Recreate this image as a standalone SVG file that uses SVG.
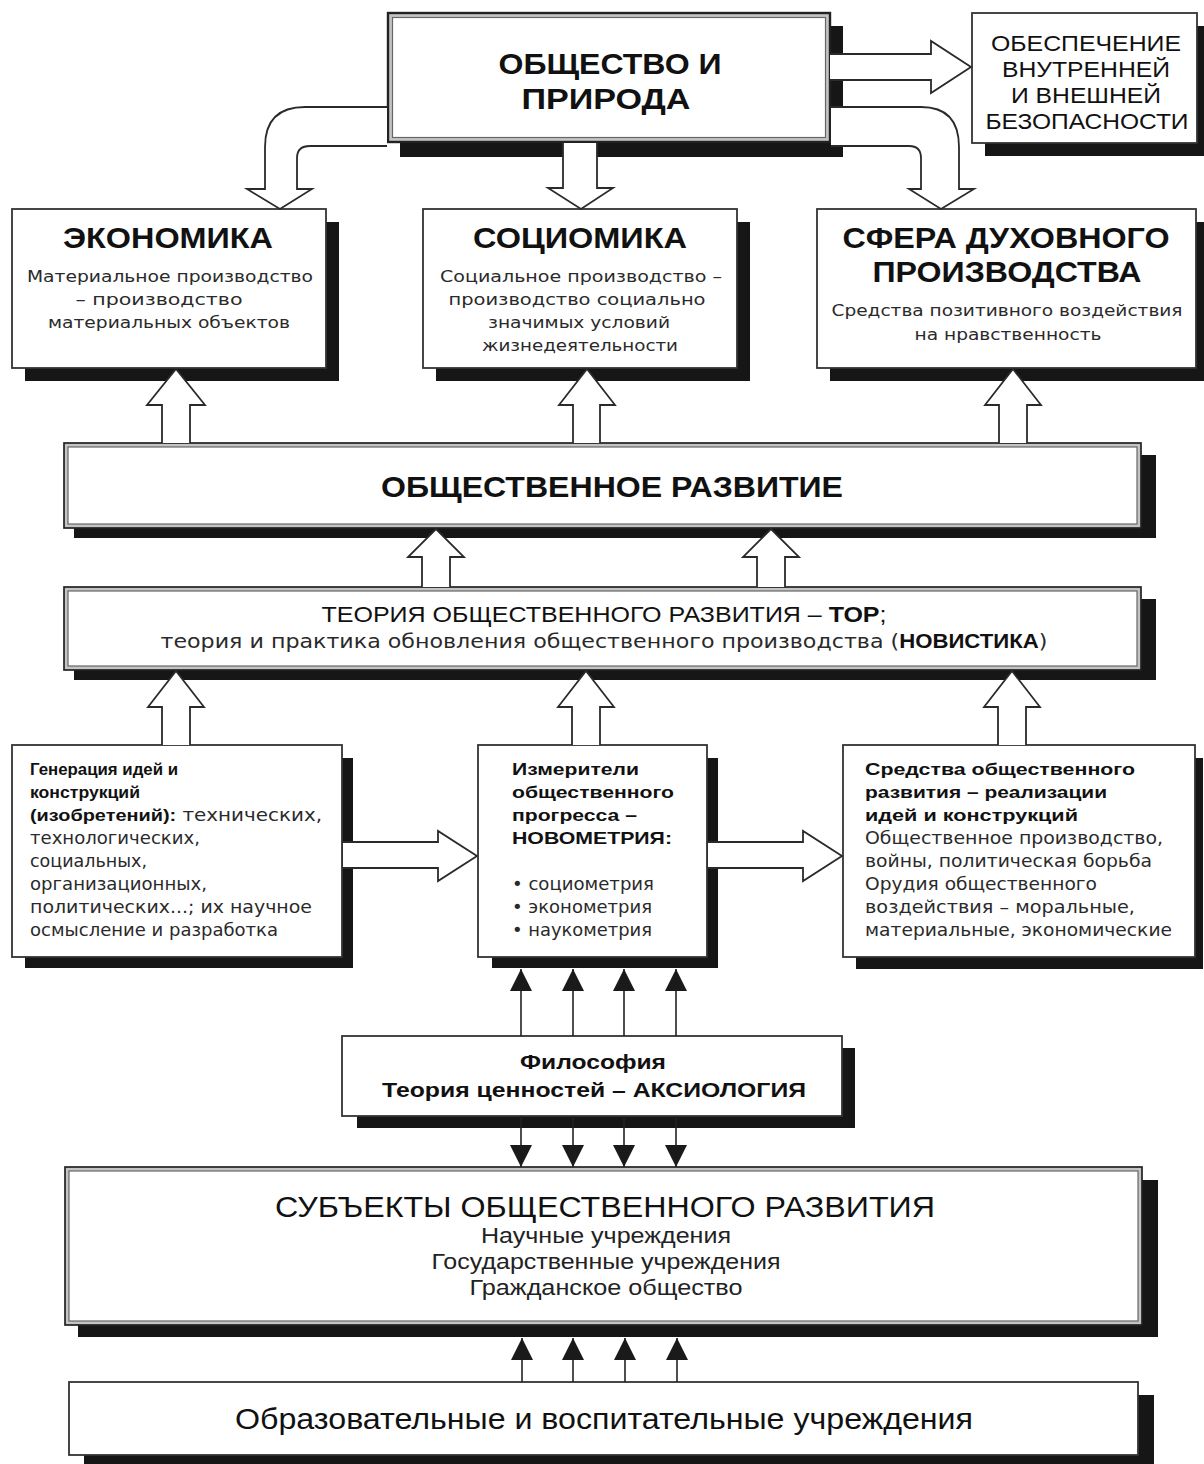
<svg xmlns="http://www.w3.org/2000/svg" width="1204" height="1464" viewBox="0 0 1204 1464">
<defs>
<marker id="ah" viewBox="0 0 10 10" refX="10" refY="5" markerWidth="22" markerHeight="22" markerUnits="userSpaceOnUse" orient="auto"><path d="M0,0 L10,5 L0,10 z" fill="#1a1a1a"/></marker>
<style>
.sh{fill:#161616}
.bx{fill:#fff;stroke:#333;stroke-width:1.8}
.dbo{fill:#c4c4c4;stroke:#222;stroke-width:1.7}
.dbi{fill:#fff;stroke:#666;stroke-width:1.2}
.ba{fill:#fff;stroke:#2a2a2a;stroke-width:1.8;stroke-linejoin:miter}
.ln{stroke:#222;stroke-width:1.6;fill:none;marker-end:url(#ah)}
.t{font-family:"Liberation Sans",Arial,sans-serif;font-weight:normal;fill:#111}
.b{font-family:"Liberation Sans",Arial,sans-serif;font-weight:bold;fill:#111}
.d{font-family:"DejaVu Sans","Liberation Sans",sans-serif;font-weight:normal;fill:#2a2a2a}
.m{text-anchor:middle}
</style>
</defs>
<rect width="1204" height="1464" fill="#fff"/>

<g id="node-society">
<rect class="sh" x="400" y="26" width="443" height="131"/>
<rect class="dbo" x="388" y="13" width="442" height="129" style="stroke-width:2.4"/>
<rect class="dbi" x="392.5" y="17.5" width="433" height="120"/>
<text class="b m" x="610" y="74" font-size="30" textLength="223" lengthAdjust="spacingAndGlyphs">ОБЩЕСТВО И</text>
<text class="b m" x="606" y="109" font-size="30" textLength="169" lengthAdjust="spacingAndGlyphs">ПРИРОДА</text>
</g>

<g id="node-security">
<rect class="sh" x="985" y="26" width="225" height="130"/>
<rect class="bx" x="972" y="13" width="225" height="130"/>
<g class="t m" font-size="22">
<text x="1086" y="51" textLength="190" lengthAdjust="spacingAndGlyphs">ОБЕСПЕЧЕНИЕ</text>
<text x="1086" y="77" textLength="168" lengthAdjust="spacingAndGlyphs">ВНУТРЕННЕЙ</text>
<text x="1086" y="103" textLength="150" lengthAdjust="spacingAndGlyphs">И ВНЕШНЕЙ</text>
<text x="1087" y="129" textLength="203" lengthAdjust="spacingAndGlyphs">БЕЗОПАСНОСТИ</text>
</g>
</g>

<g id="node-economy">
<rect class="sh" x="25" y="222" width="314" height="159"/>
<rect class="bx" x="12" y="209" width="314" height="159"/>
<text class="b m" x="168" y="248" font-size="30" textLength="210" lengthAdjust="spacingAndGlyphs">ЭКОНОМИКА</text>
<g class="d m" font-size="16">
<text x="170" y="282" textLength="286" lengthAdjust="spacingAndGlyphs">Материальное производство</text>
<text x="159" y="305" textLength="167" lengthAdjust="spacingAndGlyphs">– производство</text>
<text x="169" y="328" textLength="242" lengthAdjust="spacingAndGlyphs">материальных объектов</text>
</g>
</g>

<g id="node-sociomics">
<rect class="sh" x="436" y="222" width="314" height="159"/>
<rect class="bx" x="423" y="209" width="314" height="159"/>
<text class="b m" x="580" y="248" font-size="30" textLength="214" lengthAdjust="spacingAndGlyphs">СОЦИОМИКА</text>
<g class="d m" font-size="16">
<text x="581" y="282" textLength="282" lengthAdjust="spacingAndGlyphs">Социальное производство –</text>
<text x="577" y="305" textLength="257" lengthAdjust="spacingAndGlyphs">производство социально</text>
<text x="579" y="328" textLength="182" lengthAdjust="spacingAndGlyphs">значимых условий</text>
<text x="580" y="351" textLength="196" lengthAdjust="spacingAndGlyphs">жизнедеятельности</text>
</g>
</g>

<g id="node-spiritual">
<rect class="sh" x="830" y="222" width="379" height="159"/>
<rect class="bx" x="817" y="209" width="379" height="159"/>
<text class="b m" x="1006" y="248" font-size="30" textLength="327" lengthAdjust="spacingAndGlyphs">СФЕРА ДУХОВНОГО</text>
<text class="b m" x="1007" y="282" font-size="30" textLength="269" lengthAdjust="spacingAndGlyphs">ПРОИЗВОДСТВА</text>
<g class="d m" font-size="16">
<text x="1007" y="316" textLength="351" lengthAdjust="spacingAndGlyphs">Средства позитивного воздействия</text>
<text x="1008" y="340" textLength="187" lengthAdjust="spacingAndGlyphs">на нравственность</text>
</g>
</g>

<g id="node-development">
<rect class="sh" x="74" y="455" width="1082" height="83"/>
<rect class="dbo" x="64" y="443" width="1077" height="85"/>
<rect class="dbi" x="68" y="447" width="1069" height="77"/>
<text class="b m" x="612" y="497" font-size="30" textLength="462" lengthAdjust="spacingAndGlyphs">ОБЩЕСТВЕННОЕ РАЗВИТИЕ</text>
</g>

<g id="node-theory">
<rect class="sh" x="74" y="599" width="1082" height="81"/>
<rect class="dbo" x="64" y="587" width="1077" height="83"/>
<rect class="dbi" x="68" y="591" width="1069" height="75"/>
<text class="t m" x="604" y="622" font-size="22" textLength="565" lengthAdjust="spacingAndGlyphs">ТЕОРИЯ ОБЩЕСТВЕННОГО РАЗВИТИЯ – <tspan font-weight="bold">ТОР</tspan>;</text>
<text class="d m" x="604" y="648" font-size="20" textLength="887" lengthAdjust="spacingAndGlyphs">теория и практика обновления общественного производства (<tspan class="b">НОВИСТИКА</tspan>)</text>
</g>

<g id="node-generation">
<rect class="sh" x="25" y="758" width="328" height="210"/>
<rect class="bx" x="12" y="745" width="330" height="212"/>
<g font-size="17">
<text class="b" x="30" y="775" textLength="148" lengthAdjust="spacingAndGlyphs">Генерация идей и</text>
<text class="b" x="30" y="798" textLength="110" lengthAdjust="spacingAndGlyphs">конструкций</text>
<text class="b" x="30" y="821" textLength="292" lengthAdjust="spacingAndGlyphs">(изобретений):<tspan class="d"> технических,</tspan></text>
<text class="d" x="30" y="844" textLength="170" lengthAdjust="spacingAndGlyphs">технологических,</text>
<text class="d" x="30" y="867" textLength="117" lengthAdjust="spacingAndGlyphs">социальных,</text>
<text class="d" x="30" y="890" textLength="177" lengthAdjust="spacingAndGlyphs">организационных,</text>
<text class="d" x="30" y="913" textLength="282" lengthAdjust="spacingAndGlyphs">политических...;  их научное</text>
<text class="d" x="30" y="936" textLength="248" lengthAdjust="spacingAndGlyphs">осмысление и разработка</text>
</g>
</g>

<g id="node-measures">
<rect class="sh" x="492" y="758" width="226" height="210"/>
<rect class="bx" x="478" y="745" width="229" height="212"/>
<g font-size="17">
<text class="b" x="512" y="775" textLength="127" lengthAdjust="spacingAndGlyphs">Измерители</text>
<text class="b" x="512" y="798" textLength="162" lengthAdjust="spacingAndGlyphs">общественного</text>
<text class="b" x="512" y="821" textLength="125" lengthAdjust="spacingAndGlyphs">прогресса –</text>
<text class="b" x="512" y="844" textLength="160" lengthAdjust="spacingAndGlyphs">НОВОМЕТРИЯ:</text>
<text class="d" x="512" y="890" textLength="142" lengthAdjust="spacingAndGlyphs">• социометрия</text>
<text class="d" x="512" y="913" textLength="140" lengthAdjust="spacingAndGlyphs">• эконометрия</text>
<text class="d" x="512" y="936" textLength="140" lengthAdjust="spacingAndGlyphs">• наукометрия</text>
</g>
</g>

<g id="node-means">
<rect class="sh" x="856" y="758" width="347" height="211"/>
<rect class="bx" x="843" y="745" width="352" height="212"/>
<g font-size="17">
<text class="b" x="865" y="775" textLength="270" lengthAdjust="spacingAndGlyphs">Средства общественного</text>
<text class="b" x="865" y="798" textLength="242" lengthAdjust="spacingAndGlyphs">развития – реализации</text>
<text class="b" x="865" y="821" textLength="213" lengthAdjust="spacingAndGlyphs">идей и конструкций</text>
<text class="d" x="865" y="844" textLength="298" lengthAdjust="spacingAndGlyphs">Общественное производство,</text>
<text class="d" x="865" y="867" textLength="287" lengthAdjust="spacingAndGlyphs">войны, политическая борьба</text>
<text class="d" x="865" y="890" textLength="232" lengthAdjust="spacingAndGlyphs">Орудия общественного</text>
<text class="d" x="865" y="913" textLength="270" lengthAdjust="spacingAndGlyphs">воздействия – моральные,</text>
<text class="d" x="865" y="936" textLength="307" lengthAdjust="spacingAndGlyphs">материальные, экономические</text>
</g>
</g>

<g id="node-philosophy">
<rect class="sh" x="357" y="1048" width="498" height="80"/>
<rect class="bx" x="342" y="1036" width="500" height="80"/>
<text class="b m" x="593" y="1069" font-size="20" textLength="146" lengthAdjust="spacingAndGlyphs">Философия</text>
<text class="b m" x="594" y="1097" font-size="20" textLength="424" lengthAdjust="spacingAndGlyphs">Теория ценностей – АКСИОЛОГИЯ</text>
</g>

<g id="node-subjects">
<rect class="sh" x="78" y="1180" width="1080" height="157"/>
<rect class="dbo" x="65" y="1167" width="1077" height="158"/>
<rect class="dbi" x="69" y="1171" width="1069" height="150"/>
<text class="t m" x="605" y="1217" font-size="30" textLength="660" lengthAdjust="spacingAndGlyphs">СУБЪЕКТЫ ОБЩЕСТВЕННОГО РАЗВИТИЯ</text>
<g class="t m" font-size="22" style="fill:#222">
<text x="606" y="1243" textLength="250" lengthAdjust="spacingAndGlyphs">Научные учреждения</text>
<text x="606" y="1269" textLength="349" lengthAdjust="spacingAndGlyphs">Государственные учреждения</text>
<text x="606" y="1295" textLength="273" lengthAdjust="spacingAndGlyphs">Гражданское общество</text>
</g>
</g>

<g id="node-education">
<rect class="sh" x="84" y="1395" width="1070" height="80"/>
<rect class="bx" x="69" y="1382" width="1069" height="73"/>
<text class="t m" x="604" y="1429" font-size="30" textLength="738" lengthAdjust="spacingAndGlyphs">Образовательные и воспитательные учреждения</text>
</g>

<g id="connectors">
<path class="ba" d="M830 54 L931 54 L931 41 L971 67 L931 93 L931 80 L830 80"/>
<path class="ba" d="M387 107 L305 107 Q265 107 265 147 L265 189 L247 189 L280 209 L312 189 L297 189 L297 158 Q297 146 310 146 L387 146"/>
<path class="ba" d="M831 107 L921 107 Q959 107 959 147 L959 189 L974 189 L941 209 L909 189 L921 189 L921 158 Q921 146 909 146 L831 146"/>
<path class="ba" d="M563 143 L563 188 L548 188 L581 209 L613 188 L597 188 L597 143"/>

<path class="ba" d="M162 443 L162 405 L147 405 L176 369 L205 405 L190 405 L190 443"/>
<path class="ba" d="M573 443 L573 405 L559 405 L587 369 L615 405 L600 405 L600 443"/>
<path class="ba" d="M999 443 L999 405 L985 405 L1013 369 L1041 405 L1027 405 L1027 443"/>

<path class="ba" d="M422 587 L422 557 L408 557 L436 529 L464 557 L450 557 L450 587"/>
<path class="ba" d="M757 587 L757 557 L743 557 L771 529 L799 557 L785 557 L785 587"/>

<path class="ba" d="M162 745 L162 707 L148 707 L176 671 L204 707 L190 707 L190 745"/>
<path class="ba" d="M572 745 L572 707 L558 707 L586 671 L614 707 L600 707 L600 745"/>
<path class="ba" d="M998 745 L998 707 L984 707 L1012 671 L1040 707 L1026 707 L1026 745"/>

<path class="ba" d="M343 842 L438 842 L438 831 L477 856 L438 881 L438 868 L343 868"/>
<path class="ba" d="M708 842 L803 842 L803 831 L842 856 L803 881 L803 868 L708 868"/>

<line class="ln" x1="521" y1="1036" x2="521" y2="969"/>
<line class="ln" x1="573" y1="1036" x2="573" y2="969"/>
<line class="ln" x1="624" y1="1036" x2="624" y2="969"/>
<line class="ln" x1="676" y1="1036" x2="676" y2="969"/>

<line class="ln" x1="521" y1="1116" x2="521" y2="1167"/>
<line class="ln" x1="573" y1="1116" x2="573" y2="1167"/>
<line class="ln" x1="624" y1="1116" x2="624" y2="1167"/>
<line class="ln" x1="676" y1="1116" x2="676" y2="1167"/>

<line class="ln" x1="522" y1="1382" x2="522" y2="1338"/>
<line class="ln" x1="573" y1="1382" x2="573" y2="1338"/>
<line class="ln" x1="625" y1="1382" x2="625" y2="1338"/>
<line class="ln" x1="677" y1="1382" x2="677" y2="1338"/>
</g>
</svg>
